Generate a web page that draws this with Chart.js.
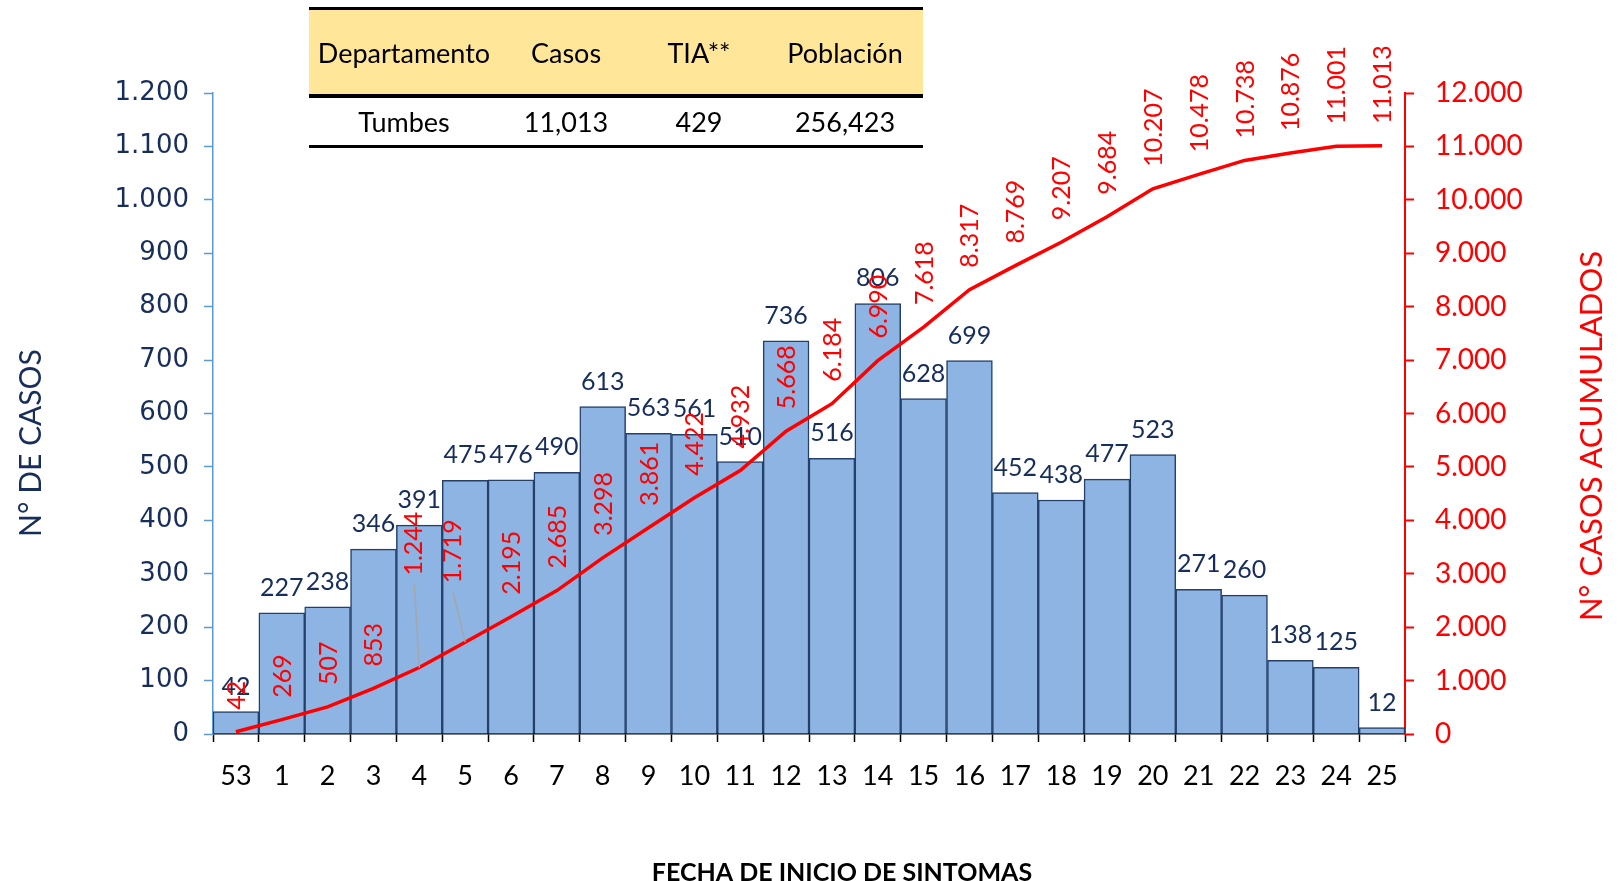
<!DOCTYPE html>
<html>
<head>
<meta charset="utf-8">
<script src="https://cdn.jsdelivr.net/npm/chart.js@4"></script>
<style>
  html, body { margin:0; padding:0; background:#fff; }
  #wrap { position:relative; width:1618px; height:881px; }
  #tbl { position:absolute; left:309px; top:7px; width:614px; font-family:Lato, sans-serif; font-size:27px; color:#000; }
  .hdr { position:relative; height:84px; background:#FFE699; border-top:3px solid #000; border-bottom:4px solid #000; }
  .row { position:relative; height:47px; border-bottom:3px solid #000; }
  .cell { position:absolute; top:0; bottom:0; width:200px; display:flex; align-items:center; justify-content:center; white-space:nowrap; }
</style>
</head>
<body>
<div id="wrap">
  <canvas id="c" width="1618" height="881"></canvas>
  <div id="tbl"></div>
</div>
<script>
// ---- data ----
const weeks = ['53','1','2','3','4','5','6','7','8','9','10','11','12','13','14','15','16','17','18','19','20','21','22','23','24','25'];
const cases = [42,227,238,346,391,475,476,490,613,563,561,510,736,516,806,628,699,452,438,477,523,271,260,138,125,12];
const cumulative = [42,269,507,853,1244,1719,2195,2685,3298,3861,4422,4932,5668,6184,6990,7618,8317,8769,9207,9684,10207,10478,10738,10876,11001,11013];
const tableHeaders = ['Departamento','Casos','TIA**','Población'];
const tableRow = ['Tumbes','11,013','429','256,423'];

// ---- table ----
const colCenters = [95, 257, 390, 536];
const tbl = document.getElementById('tbl');
function mkRow(cls, vals){
  const r = document.createElement('div'); r.className = cls;
  vals.forEach((v,i)=>{ const c=document.createElement('div'); c.className='cell'; c.style.left=(colCenters[i]-100)+'px'; c.textContent=v; r.appendChild(c); });
  tbl.appendChild(r);
}
mkRow('hdr', tableHeaders);
mkRow('row', tableRow);

// ---- helpers ----
const NAVY = '#172E5C';
const RED = '#FF0000';
function fmt(n){ return String(Math.round(n)).replace(/\B(?=(\d{3})+(?!\d))/g,'.'); }

const leaders = { 4:{dx:-6, dy:-92}, 5:{dx:-13, dy:-59} };

const labelPlugin = {
  id:'labels',
  afterDatasetsDraw(chart){
    const ctx = chart.ctx;
    const barMeta = chart.getDatasetMeta(1);
    const lineMeta = chart.getDatasetMeta(0);
    ctx.save();
    ctx.font = '25px Lato';
    ctx.fillStyle = NAVY;
    ctx.textAlign = 'center';
    ctx.textBaseline = 'alphabetic';
    barMeta.data.forEach((bar,i)=>{ ctx.fillText(String(cases[i]), bar.x, bar.y - 17); });
    const fs = 25;
    ctx.font = fs + 'px Lato';
    const capH = fs*0.72;
    lineMeta.data.forEach((pt,i)=>{
      const l = leaders[i];
      const dx = l ? l.dx : 0, dy = l ? l.dy : -22;
      const x = pt.x + dx, y = pt.y + dy;
      if (l) {
        ctx.save();
        ctx.strokeStyle = '#A6A6A6'; ctx.lineWidth = 1.5;
        ctx.beginPath(); ctx.moveTo(pt.x, pt.y); ctx.lineTo(x + 1, y + 9); ctx.stroke();
        ctx.restore();
      }
      ctx.save();
      ctx.translate(x, y);
      ctx.rotate(-Math.PI/2);
      ctx.fillStyle = RED;
      ctx.textAlign = 'left';
      ctx.textBaseline = 'alphabetic';
      ctx.fillText(fmt(cumulative[i]), 0, capH/2);
      ctx.restore();
    });
    ctx.restore();
  },
  afterDraw(chart){
    const ctx = chart.ctx;
    ctx.save();
    ctx.font = '30px Lato';
    ctx.textAlign = 'center'; ctx.textBaseline = 'middle';
    ctx.fillStyle = NAVY;
    ctx.translate(31, 443); ctx.rotate(-Math.PI/2); ctx.fillText('N° DE CASOS', 0, 0);
    ctx.restore();
    ctx.save();
    ctx.font = '31px Lato';
    ctx.textAlign = 'center'; ctx.textBaseline = 'middle';
    ctx.fillStyle = RED;
    ctx.translate(1592, 436); ctx.rotate(-Math.PI/2); ctx.fillText('N° CASOS ACUMULADOS', 0, 0);
    ctx.restore();
    ctx.save();
    ctx.font = 'bold 25px Lato';
    ctx.textAlign = 'center'; ctx.textBaseline = 'middle';
    ctx.fillStyle = '#000';
    ctx.fillText('FECHA DE INICIO DE SINTOMAS', 842, 873);
    ctx.restore();
  }
};

new Chart(document.getElementById('c'), {
  data: {
    labels: weeks,
    datasets: [
      { type:'line', data: cumulative, yAxisID:'y1', borderColor:RED, borderWidth:3.5, pointRadius:0, tension:0, order:0, fill:false },
      { type:'bar', data: cases, yAxisID:'y', backgroundColor:'#8DB4E2', borderColor:'#24406A', borderWidth:1.5, barPercentage:1, categoryPercentage:1, order:1 }
    ]
  },
  options: {
    responsive:false,
    animation:false,
    devicePixelRatio:1,
    layout:{ padding:{ top:93, left:0, right:0, bottom:0 } },
    plugins:{ legend:{display:false}, tooltip:{enabled:false} },
    scales:{
      x:{
        type:'category', offset:true,
        grid:{ offset:true, drawOnChartArea:false, drawTicks:true, tickLength:8, color:'#000', tickWidth:1.5 },
        border:{ color:'#000', width:1.5 },
        ticks:{ color:'#000', font:{ family:'Lato', size:27 }, padding:18, maxRotation:0, autoSkip:false },
        afterFit(s){ s.height = 881 - 734; }
      },
      y:{
        position:'left', min:0, max:1200,
        grid:{ drawOnChartArea:false, drawTicks:true, tickLength:9, color:'#5B9BD5', tickWidth:1.5 },
        border:{ color:'#5B9BD5', width:1.5 },
        ticks:{ stepSize:100, color:NAVY, font:{ family:'DejaVu Sans', size:26 }, padding:15, callback:(v)=>fmt(v) },
        afterFit(s){ s.width = 213; }
      },
      y1:{
        position:'right', min:0, max:12000,
        grid:{ drawOnChartArea:false, drawTicks:true, tickLength:9, color:RED, tickWidth:2 },
        border:{ color:RED, width:2 },
        ticks:{ stepSize:1000, color:RED, font:{ family:'Lato', size:28 }, padding:21, callback:(v)=>fmt(v) },
        afterFit(s){ s.width = 1618 - 1405; }
      }
    }
  },
  plugins:[labelPlugin]
});
</script>
</body>
</html>
